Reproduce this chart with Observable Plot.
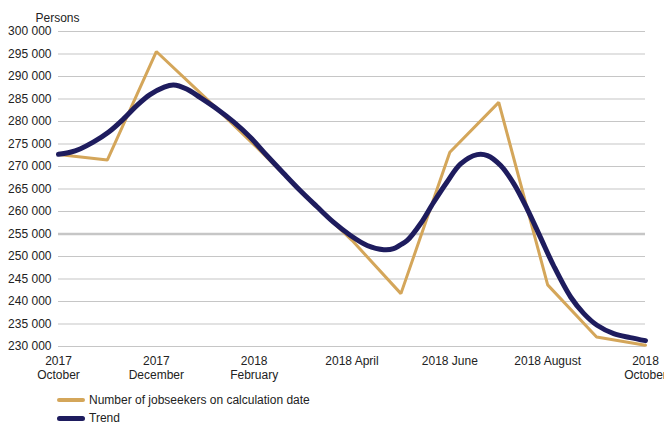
<!DOCTYPE html>
<html>
<head>
<meta charset="utf-8">
<script src="https://cdn.jsdelivr.net/npm/d3@7"></script>
<script src="https://cdn.jsdelivr.net/npm/@observablehq/plot@0.6"></script>
<style>
  body { margin: 0; background: #fff; font-family: "Liberation Sans", Arial, sans-serif; }
  #chart svg { display: block; }
  .legend { position: relative; height: 40px; font-size: 12px; color: #222; }
  .row { position: absolute; left: 57px; display: flex; align-items: center; height: 16px; }
  .sw { width: 28px; border-radius: 3px; margin-right: 4px; }
</style>
</head>
<body>
<div id="chart"></div>
<div class="legend">
  <div class="row" style="top:7px"><div class="sw" style="height:4px;background:#D4A65A"></div><span>Number of jobseekers on calculation date</span></div>
  <div class="row" style="top:25px"><div class="sw" style="height:5px;background:#1E1C5E"></div><span>Trend</span></div>
</div>
<script>
// Month index: 0 = 2017 October ... 12 = 2018 October
const xTickMonths = [0, 2, 4, 6, 8, 10, 12];
const xTickLabels = ["2017\nOctober", "2017\nDecember", "2018\nFebruary", "2018 April", "2018 June", "2018 August", "2018\nOctober"];
const yTicks = [230000, 235000, 240000, 245000, 250000, 255000, 260000, 265000, 270000, 275000, 280000, 285000, 290000, 295000, 300000];

const jobseekerMonths = [0, 1, 2, 3, 4, 5, 6, 7, 8, 9, 10, 11, 12];
const jobseekerValues = [272650, 271450, 295550, 285300, 274800, 264000, 253600, 241750, 273160, 284250, 243700, 232120, 230280];

const trendMonths = [0, 0.24, 0.44, 0.71, 1.02, 1.33, 1.6, 1.87, 2.15, 2.35, 2.62, 2.9, 3.24, 3.58, 3.92, 4.26, 4.6, 4.94, 5.28, 5.62, 5.97, 6.31, 6.65, 6.85, 6.99, 7.13, 7.4, 7.67, 7.94, 8.22, 8.56, 8.77, 9.04, 9.31, 9.58, 9.85, 10.12, 10.47, 10.74, 11.01, 11.35, 11.69, 12];
const trendValues = [272700, 273160, 273900, 275400, 277600, 280570, 283520, 285960, 287580, 288110, 287230, 285300, 282790, 279900, 276500, 272430, 268500, 264660, 261100, 257630, 254680, 252460, 251500, 251730, 252600, 253570, 257270, 262060, 266500, 270580, 272650, 272430, 270210, 266150, 260600, 254310, 248000, 241000, 237310, 234720, 232870, 231980, 231300];

const jobseekers = jobseekerMonths.map((m, i) => ({m, v: jobseekerValues[i]}));
const trend = trendMonths.map((m, i) => ({m, v: trendValues[i]}));
const fmt = d => d3.format(",")(d).replace(/,/g, " ");

const plot = Plot.plot({
  width: 664,
  height: 385,
  marginLeft: 58,
  marginRight: 19,
  marginTop: 31,
  marginBottom: 39,
  style: {fontFamily: '"Liberation Sans", Arial, sans-serif', fontSize: "12px", color: "#222", background: "#fff"},
  x: {type: "linear", domain: [0, 12]},
  y: {domain: [230000, 300000]},
  marks: [
    Plot.ruleY(yTicks.filter(d => d !== 255000), {stroke: "#c6c6c6", strokeWidth: 1.2}),
    Plot.ruleY([255000], {stroke: "#c6c6c6", strokeWidth: 2.6}),
    Plot.axisY({ticks: yTicks, tickFormat: fmt, tickSize: 0, tickPadding: 7, label: null, fontSize: 12}),
    Plot.axisX({ticks: xTickMonths, tickFormat: d => xTickLabels[xTickMonths.indexOf(d)], tickSize: 0, tickPadding: 8, label: null, fontSize: 12, lineHeight: 1.2}),
    Plot.text(["Persons"], {frameAnchor: "top-left", dx: -23, dy: -18, textAnchor: "start", fontSize: 12, fill: "#222"}),
    Plot.line(jobseekers, {x: "m", y: "v", stroke: "#D4A65A", strokeWidth: 3, strokeLinejoin: "miter"}),
    Plot.line(trend, {x: "m", y: "v", stroke: "#1E1C5E", strokeWidth: 5, curve: "catmull-rom", strokeLinecap: "round"})
  ]
});
document.getElementById("chart").appendChild(plot);
</script>
</body>
</html>
